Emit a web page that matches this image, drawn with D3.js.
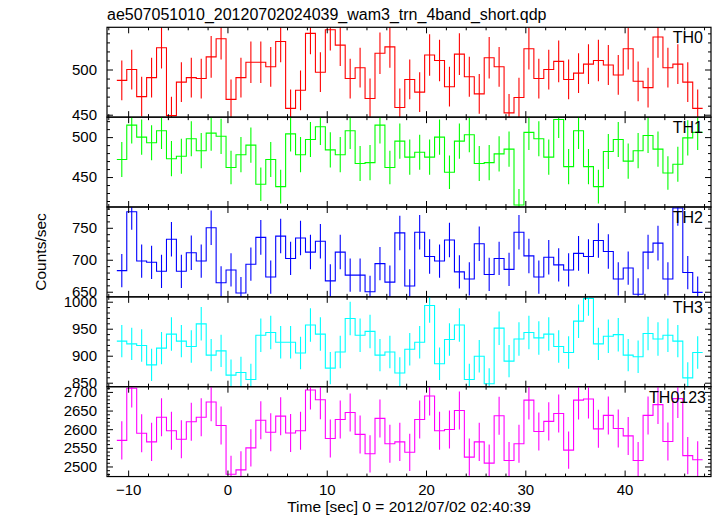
<!DOCTYPE html>
<html><head><meta charset="utf-8">
<script src="https://cdn.jsdelivr.net/npm/d3@7"></script>
<style>
body{margin:0;background:#fff}
svg{display:block}
text{font-family:"Liberation Sans",Arial,Helvetica,sans-serif;fill:#000}
</style>
</head><body>
<svg id="chart" width="717" height="516"></svg>
<script>
// ---------- data ----------
const time=[-10.64,-9.64,-8.64,-7.64,-6.64,-5.64,-4.64,-3.64,-2.64,-1.64,-0.64,0.36,1.36,2.36,3.36,4.36,5.36,6.36,7.36,8.36,9.36,10.36,11.36,12.36,13.36,14.36,15.36,16.36,17.36,18.36,19.36,20.36,21.36,22.36,23.36,24.36,25.36,26.36,27.36,28.36,29.36,30.36,31.36,32.36,33.36,34.36,35.36,36.36,37.36,38.36,39.36,40.36,41.36,42.36,43.36,44.36,45.36,46.36,47.36];
const binHalfWidth=0.5;

const th0=[488,500,470,491,524,449,486,491,490,514,534,467,491,508,508,503,531,457,477,540,497,544,527,490,502,468,518,525,458,489,475,516,510,481,517,492,473,513,503,452,469,523,490,500,509,489,496,506,510,505,494,523,487,480,536,502,506,486,457];
const th0Err=[22,22,22,22,23,21,22,22,22,23,23,22,22,23,23,22,23,21,22,23,22,23,23,22,22,22,23,23,21,22,22,23,23,22,23,22,22,23,22,21,22,23,22,22,23,22,22,22,23,22,22,23,22,22,23,22,22,22,21];

const th1=[472,515,500,493,508,473,476,498,483,505,501,462,478,490,441,472,438,504,478,497,513,484,478,508,467,468,515,462,495,475,481,475,500,456,495,503,467,468,479,485,415,506,498,475,522,463,508,463,438,482,497,470,483,502,485,455,466,499,506];
const th1Err=[22,23,22,22,23,22,22,22,22,22,22,21,22,22,21,22,21,22,22,22,23,22,22,23,22,22,23,21,22,22,22,22,22,21,22,22,22,22,22,22,20,22,22,22,23,22,23,22,21,22,22,22,22,22,22,21,22,22,22];

const th2=[683,775,698,696,682,732,682,711,698,750,664,684,648,693,735,673,737,702,734,712,729,667,712,676,676,650,694,665,742,659,743,705,698,731,681,670,725,677,702,685,743,706,673,704,692,684,710,705,730,713,670,687,646,712,726,670,781,680,649];
const th2Err=[26,28,26,26,26,27,26,27,26,27,26,26,25,26,27,26,27,26,27,27,27,26,27,26,26,25,26,26,27,26,27,27,26,27,26,26,27,26,26,26,27,27,26,27,26,26,27,27,27,27,26,26,25,27,27,26,28,26,25];

const th3=[927,922,919,883,914,940,927,917,959,901,909,864,869,856,938,943,925,925,905,957,940,877,907,969,938,945,901,907,868,912,925,993,885,930,957,856,899,848,951,890,931,943,933,940,917,906,964,1006,922,936,939,901,898,941,931,938,927,859,906];
const th3Err=[30,30,30,30,30,31,30,30,31,30,30,29,29,29,31,31,30,30,30,31,31,30,30,31,31,31,30,30,29,30,30,32,30,30,31,29,30,29,31,30,31,31,31,31,30,30,31,32,30,31,31,30,30,31,31,31,30,29,30];

const th0123=[2570,2710,2589,2566,2632,2596,2573,2620,2632,2673,2610,2479,2491,2550,2624,2592,2635,2590,2596,2705,2679,2575,2626,2645,2586,2534,2629,2561,2566,2538,2626,2689,2596,2599,2650,2525,2566,2509,2636,2516,2561,2678,2594,2621,2642,2544,2678,2681,2601,2637,2602,2582,2516,2637,2666,2567,2682,2529,2518];
const th0123Err=[51,52,51,51,51,51,51,51,51,52,51,50,50,50,51,51,51,51,51,52,52,51,51,51,51,50,51,51,51,50,51,52,51,51,51,50,51,50,51,50,51,52,51,51,51,50,52,52,51,51,51,51,50,51,52,51,52,50,50];

const panelNames=["TH0","TH1","TH2","TH3","TH0123"];
const panelColors=["#ff0000","#00ff00","#0000ff","#00ffff","#ff00ff"];
const xTickValues=[-10,0,10,20,30,40];
const yTicksTH0=[450,500];
const yTicksTH1=[450,500];
const yTicksTH2=[650,700,750];
const yTicksTH3=[850,900,950,1000];
const yTicksTH0123=[2500,2550,2600,2650,2700];
const titleText="ae507051010_20120702024039_wam3_trn_4band_short.qdp";
const xLabel="Time [sec] 0 = 2012/07/02 02:40:39";
const yLabel="Counts/sec";

// ---------- layout ----------
const W=717,H=516;
const L=107,R=711,T=27.3,PH=89.85;
const xDomain=[-12.13,48.7];
const yDomains=[[447.3,546.7],[412.5,525],[642,782.5],[842.6,1009],[2473,2714]];

const panels=[
  {name:panelNames[0],v:th0,e:th0Err,ticks:yTicksTH0},
  {name:panelNames[1],v:th1,e:th1Err,ticks:yTicksTH1},
  {name:panelNames[2],v:th2,e:th2Err,ticks:yTicksTH2},
  {name:panelNames[3],v:th3,e:th3Err,ticks:yTicksTH3},
  {name:panelNames[4],v:th0123,e:th0123Err,ticks:yTicksTH0123}
];

const svg=d3.select("#chart");
const x=d3.scaleLinear().domain(xDomain).range([L,R]);
const xMinor=d3.range(-12,49,2).filter(d=>!xTickValues.includes(d));

svg.append("text").attr("x",L).attr("y",20).attr("font-size",16).text(titleText);

panels.forEach((p,i)=>{
  const top=T+i*PH, bot=top+PH;
  const y=d3.scaleLinear().domain(yDomains[i]).range([bot,top]);
  const g=svg.append("g");
  const cid="clip"+i;
  svg.append("clipPath").attr("id",cid).append("rect")
    .attr("x",L).attr("y",top).attr("width",R-L).attr("height",PH);
  const pg=g.append("g").attr("clip-path",`url(#${cid})`);
  const col=panelColors[i];
  const pts=[];
  p.v.forEach((v,k)=>{pts.push([time[k]-binHalfWidth,v]);pts.push([time[k]+binHalfWidth,v]);});
  const line=d3.line().x(d=>x(d[0])).y(d=>y(d[1]));
  pg.append("path").attr("d",line(pts)).attr("fill","none").attr("stroke",col).attr("stroke-width",1.1);
  pg.selectAll("line.err").data(p.v).enter().append("line")
    .attr("x1",(d,k)=>x(time[k])).attr("x2",(d,k)=>x(time[k]))
    .attr("y1",(d,k)=>y(d-p.e[k])).attr("y2",(d,k)=>y(d+p.e[k]))
    .attr("stroke",col).attr("stroke-width",1.1);

  const yd=yDomains[i];
  const yMinor=d3.range(Math.ceil(yd[0]/10)*10,yd[1],10).filter(d=>!p.ticks.includes(d));
  const styleAx=a=>{a.select(".domain").remove();a.selectAll("line").attr("stroke","#000");a.selectAll("text").attr("font-size",15).attr("font-family","Liberation Sans, Arial, sans-serif");};
  g.append("g").attr("transform",`translate(0,${bot})`)
    .call(d3.axisBottom(x).tickValues(xTickValues).tickSize(-6).tickFormat(i===4?d3.format("d"):()=>"").tickPadding(8)).call(styleAx);
  g.append("g").attr("transform",`translate(0,${bot})`)
    .call(d3.axisBottom(x).tickValues(xMinor).tickSize(-3).tickFormat(()=>"")).call(styleAx);
  g.append("g").attr("transform",`translate(0,${top})`)
    .call(d3.axisTop(x).tickValues(xTickValues).tickSize(-6).tickFormat(()=>"")).call(styleAx);
  g.append("g").attr("transform",`translate(0,${top})`)
    .call(d3.axisTop(x).tickValues(xMinor).tickSize(-3).tickFormat(()=>"")).call(styleAx);
  g.append("g").attr("transform",`translate(${L},0)`)
    .call(d3.axisLeft(y).tickValues(p.ticks).tickSize(-6).tickPadding(10).tickFormat(d3.format("d"))).call(styleAx);
  g.append("g").attr("transform",`translate(${L},0)`)
    .call(d3.axisLeft(y).tickValues(yMinor).tickSize(-3).tickFormat(()=>"")).call(styleAx);
  g.append("g").attr("transform",`translate(${R},0)`)
    .call(d3.axisRight(y).tickValues(p.ticks).tickSize(-6).tickFormat(()=>"")).call(styleAx);
  g.append("g").attr("transform",`translate(${R},0)`)
    .call(d3.axisRight(y).tickValues(yMinor).tickSize(-3).tickFormat(()=>"")).call(styleAx);
  g.append("rect").attr("x",L).attr("y",top).attr("width",R-L).attr("height",PH)
    .attr("fill","none").attr("stroke","#000").attr("stroke-width",1.2);
  g.append("text").attr("x",i===4?R-5:R-8).attr("y",top+15.8).attr("text-anchor","end").attr("font-size",16).text(p.name);
});

svg.append("text").attr("x",(L+R)/2).attr("y",H-4).attr("text-anchor","middle").attr("font-size",15.5).text(xLabel);
svg.append("text").attr("transform",`translate(46,${T+2.5*PH}) rotate(-90)`).attr("text-anchor","middle").attr("font-size",15.5).text(yLabel);
</script>
</body></html>
